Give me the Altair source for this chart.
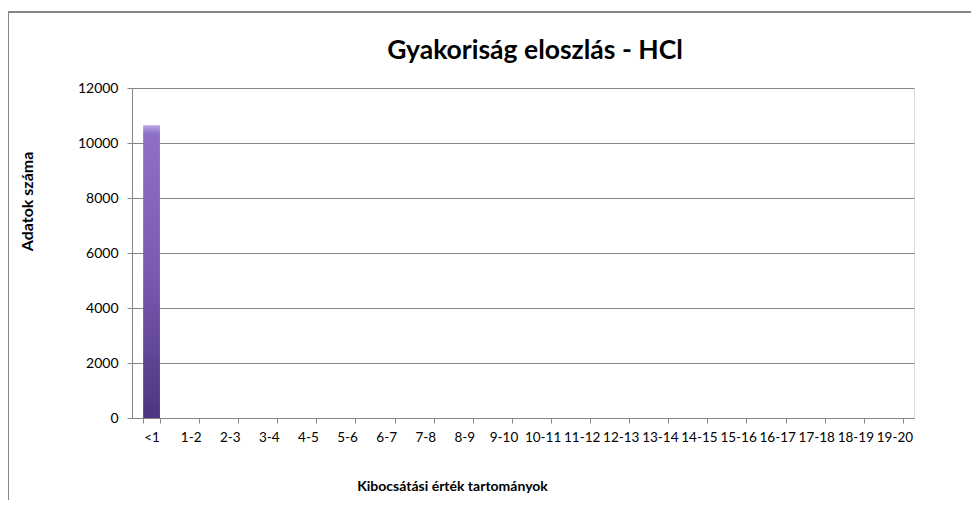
import altair as alt
import pandas as pd

categories = ["<1", "1-2", "2-3", "3-4", "4-5", "5-6", "6-7", "7-8", "8-9", "9-10",
              "10-11", "11-12", "12-13", "13-14", "14-15", "15-16", "16-17", "17-18",
              "18-19", "19-20"]
values = [10650, 0, 0, 0, 0, 0, 0, 0, 0, 0, 0, 0, 0, 0, 0, 0, 0, 0, 0, 0]
y_ticks = [0, 2000, 4000, 6000, 8000, 10000, 12000]
title_text = ["Gyakoriság eloszlás - HCl"]

df = pd.DataFrame({"cat": categories, "val": values})
df_title = pd.DataFrame({"t": title_text})

FONT = "Lato"

bars = alt.Chart(df).mark_bar(
    color=alt.Gradient(
        gradient="linear",
        stops=[alt.GradientStop(color="#b9a6e2", offset=0),
               alt.GradientStop(color="#8f70c8", offset=0.03),
               alt.GradientStop(color="#7a5bb3", offset=0.5),
               alt.GradientStop(color="#4e3580", offset=1)],
        x1=0, x2=0, y1=0, y2=1)
).encode(
    x=alt.X("cat:N", sort=categories,
            scale=alt.Scale(paddingInner=0.57, paddingOuter=0.285),
            axis=alt.Axis(title="Kibocsátási  érték tartományok", labelAngle=0,
                          tickBand="extent", grid=False, domainColor="#868686",
                          tickColor="#868686", tickSize=5, labelPadding=7,
                          labelFontSize=13.5, labelColor="#000000", labelFont=FONT,
                          titleFont=FONT, titleFontSize=14, titleFontWeight="bold",
                          titleColor="#000000", titlePadding=36, titleX=320)),
    y=alt.Y("val:Q", scale=alt.Scale(domain=[0, 12000], nice=False),
            axis=alt.Axis(title="Adatok száma", values=y_ticks, format="d",
                          gridColor="#868686", gridWidth=1, domainColor="#868686",
                          tickColor="#868686", tickSize=5, labelPadding=9,
                          labelFontSize=14, labelColor="#000000", labelFont=FONT,
                          titleFont=FONT, titleFontSize=16, titleFontWeight="bold",
                          titleColor="#000000", titlePadding=42, titleY=113))
)

title = alt.Chart(df_title).mark_text(
    font=FONT, fontSize=26.5, fontWeight="bold", color="#000000",
    align="center", baseline="alphabetic"
).encode(text="t:N", x=alt.value(403), y=alt.value(-29))

border_left = alt.Chart(df).mark_rule(color="#868686", strokeWidth=1).encode(
    x=alt.value(-123.5), y=alt.value(-76), y2=alt.value(420))
border_top = alt.Chart(df).mark_rule(color="#868686", strokeWidth=1).encode(
    x=alt.value(-123.5), x2=alt.value(900), y=alt.value(-76))

chart = alt.layer(border_left, border_top, bars, title).properties(
    width=782, height=330,
    autosize=alt.AutoSizeParams(type="none"),
    padding={"left": 124, "top": 80, "right": 57, "bottom": 82}
).configure_view(stroke=None).configure(background="white")

chart.save("out.html", embed_options={"renderer": "svg", "actions": False})
